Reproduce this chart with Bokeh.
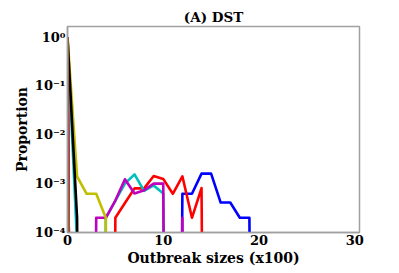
from bokeh.plotting import figure
from bokeh.models import FixedTicker, Range1d
from bokeh.embed import file_html
from bokeh.resources import INLINE

# Outbreak size bins (x100)
outbreak_size = list(range(0, 21))

# Proportions per series (0 = no outbreaks in that bin)
blue    = [0.99, 0, 0, 0, 0, 0, 0, 0, 0, 0, 0, 0, 6.2e-4, 6.2e-4, 1.6e-3, 1.6e-3, 4.1e-4, 4.1e-4, 2.0e-4, 2.0e-4, 0]
red     = [0.99, 0, 0, 0, 0, 2.0e-4, 4.0e-4, 8.0e-4, 8.0e-4, 1.43e-3, 1.25e-3, 6.2e-4, 1.41e-3, 2.0e-4, 8.1e-4, 0, 0, 0, 0, 0, 0]
cyan    = [0.995, 6e-5, 0, 0, 2.0e-4, 4.5e-4, 1.0e-3, 1.55e-3, 7.1e-4, 9.2e-4, 6.3e-4, 0, 0, 0, 0, 0, 0, 0, 0, 0, 0]
magenta = [0.99, 0, 0, 2.0e-4, 2.0e-4, 4.5e-4, 1.23e-3, 6.3e-4, 7.3e-4, 1.0e-3, 1.0e-3, 0, 2.0e-4, 0, 0, 0, 0, 0, 0, 0, 0]
yellow  = [0.997, 1.4e-3, 6.2e-4, 6.2e-4, 2.0e-4, 0, 0, 0, 0, 0, 0, 0, 0, 0, 0, 0, 0, 0, 0, 0, 0]
black   = [0.998, 2.0e-4, 0, 0, 0, 0, 0, 0, 0, 0, 0, 0, 0, 0, 0, 0, 0, 0, 0, 0, 0]
brown   = [1.0, 0, 0, 0, 0, 0, 0, 0, 0, 0, 0, 0, 0, 0, 0, 0, 0, 0, 0, 0, 0]

x_ticks = [0, 10, 20, 30]
y_ticks = [1e-4, 1e-3, 1e-2, 1e-1, 1e0]
y_tick_labels = ["10\u207b\u2074", "10\u207b\u00b3", "10\u207b\u00b2", "10\u207b\u00b9", "10\u2070"]

FONT = "DejaVu Serif"
FRAME = "#a0a0a0"

p = figure(width=399, height=273, output_backend="svg", toolbar_location=None,
           y_axis_type="log", title="(A) DST",
           x_range=Range1d(0, 30.5), y_range=Range1d(1e-4, 1.64),
           min_border_left=67, min_border_right=40, min_border_top=26, min_border_bottom=41)

p.title.align = "center"
p.title.text_font = FONT
p.title.text_font_style = "bold"
p.title.text_font_size = "13.5px"
p.title.text_color = "black"
p.title.standoff = 4

p.grid.visible = False
p.outline_line_color = FRAME
p.outline_line_width = 1.5
p.background_fill_color = "white"
p.border_fill_color = "white"

def floor(vals):
    # log axis: zero proportions are clipped far below the frame
    return [v if v > 0 else 1e-30 for v in vals]

series = [
    (blue, "#0000ff"),
    (red, "#ff0000"),
    (cyan, "#00bfbf"),
    (magenta, "#bf00bf"),
    (yellow, "#bfbf00"),
    (black, "#000000"),
    (brown, "sienna"),
]
for vals, col in series:
    p.line(outbreak_size, floor(vals), line_color=col, line_width=2.6, line_join="round")

for ax in (p.xaxis[0], p.yaxis[0]):
    ax.axis_line_color = FRAME
    ax.axis_line_width = 1.5
    ax.major_tick_out = 0
    ax.major_tick_in = 0
    ax.minor_tick_out = 0
    ax.minor_tick_in = 0
    ax.major_label_text_font = FONT
    ax.major_label_text_font_style = "bold"
    ax.major_label_text_font_size = "13px"
    ax.major_label_text_color = "black"
    ax.axis_label_text_font = FONT
    ax.axis_label_text_font_style = "bold"
    ax.axis_label_text_font_size = "14px"
    ax.axis_label_text_color = "black"
    ax.major_label_standoff = 2
    ax.axis_label_standoff = 2

p.xaxis.ticker = FixedTicker(ticks=x_ticks)
p.xaxis.axis_label = "Outbreak sizes (x100)"
p.yaxis.ticker = FixedTicker(ticks=y_ticks)
p.yaxis.major_label_overrides = {t: l for t, l in zip(y_ticks, y_tick_labels)}
p.yaxis.axis_label = "Proportion"

open("out.html", "w").write(file_html(p, INLINE))
